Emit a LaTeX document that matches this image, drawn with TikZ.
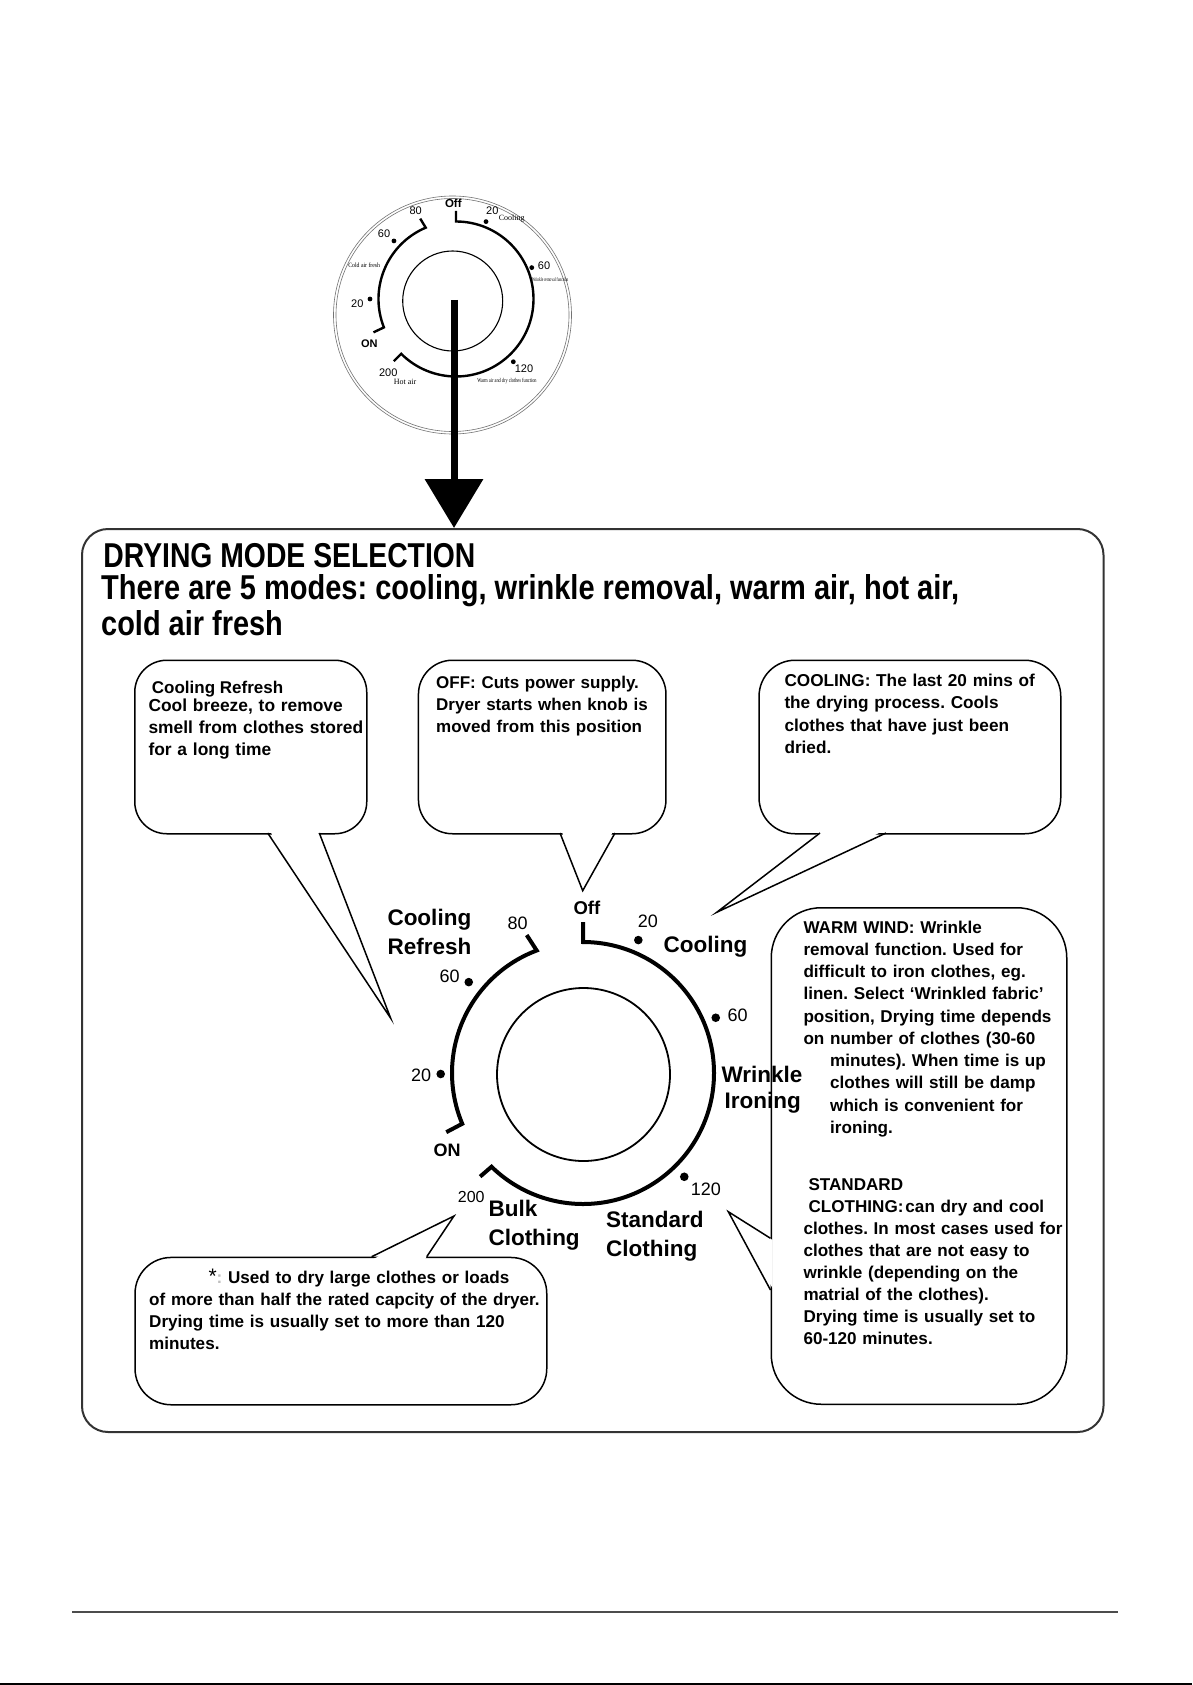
\documentclass[tikz,border=0pt]{standalone}
\usepackage{fontspec}
\setmainfont{Liberation Sans}
\newfontfamily\dialserif{Liberation Serif}
\usetikzlibrary{arrows.meta}
\frenchspacing
\newlength\fitlen
\newcommand\fitw[2]{\settowidth\fitlen{#2}\pgfmathsetmacro\fitr{#1/\fitlen}\scalebox{\fitr}[1]{#2}}
\definecolor{framecol}{HTML}{333333}
\begin{document}
\frenchspacing
\begin{tikzpicture}[x=1pt,y=-1pt,
  bubble/.style={draw=black, line width=1.5pt, fill=white, inner sep=0pt, anchor=north west},
  tail/.style={draw=black, line width=1.5pt, line join=miter},
  cover/.style={fill=white},
  ring/.style={line width=4pt, line join=miter, line cap=butt},
  ringsmall/.style={line width=2.4pt, line join=miter},
  lbl/.style={inner sep=0pt, anchor=base west},
  clbl/.style={inner sep=0pt, anchor=base},
  txt/.style={inner sep=0pt, anchor=base west, text width=420pt, align=left},
  modefont/.style={font=\fontsize{22.5}{28}\selectfont\bfseries},
  numfont/.style={font=\fontsize{18}{20}\selectfont},
  smallnum/.style={font=\fontsize{11}{12}\selectfont},
]
\useasboundingbox (0,0) rectangle (1192,1685);
\fill[white] (0,0) rectangle (1192,1685);

% ---------- main frame ----------
\node[draw=framecol, line width=2pt, rounded corners=26pt, minimum width=1021.5pt, minimum height=903pt, inner sep=0pt, anchor=north west] (frame) at (81,528) {};

% ---------- title ----------
\node[lbl] (title1) at (103.2,567.5) {\fitw{372}{\fontsize{34.5}{36}\selectfont\bfseries DRYING MODE SELECTION}};
\node[lbl] (title2) at (101,599.8) {\fitw{858}{\fontsize{34.5}{36}\selectfont\bfseries There are 5 modes: cooling, wrinkle removal, warm air, hot air,}};
\node[lbl] (title3) at (101,635.3) {\fitw{181.7}{\fontsize{34.5}{36}\selectfont\bfseries cold air fresh}};

% ---------- bubble 1 : cooling refresh ----------
\node[bubble, rounded corners=32pt, minimum width=232pt, minimum height=173.5pt] (b1) at (134,659.5) {};
\coordinate (b1l) at (267.7,833); \coordinate (b1r) at (319.3,833); \coordinate (b1tip) at (390.7,1018.3);
\fill[cover] (269.5,830.5) -- (b1tip) -- (317.5,830.5) -- cycle;
\draw[tail] (b1l) -- (b1tip) -- (b1r);
\node[lbl, font=\fontsize{17}{20}\selectfont\bfseries] (b1h) at (151.7,693.3) {Cooling Refresh};
\node[txt, font=\fontsize{17.4}{22}\selectfont\bfseries] (b1t) at (148.3,711.7) {Cool breeze, to remove\\smell from clothes stored\\for a long time};

% ---------- bubble 2 : off ----------
\node[bubble, rounded corners=34pt, minimum width=247.5pt, minimum height=173.5pt] (b2) at (417.7,659.5) {};
\coordinate (b2l) at (560,833); \coordinate (b2r) at (615,833); \coordinate (b2tip) at (582.7,890.7);
\fill[cover] (561.5,830.5) -- (b2tip) -- (613.5,830.5) -- cycle;
\draw[tail] (b2l) -- (b2tip) -- (b2r);
\node[txt, font=\fontsize{17}{22.3}\selectfont\bfseries] (b2t) at (436,688.3) {OFF: Cuts power supply.\\Dryer starts when knob is\\moved from this position};

% ---------- bubble 3 : cooling ----------
\node[bubble, rounded corners=36pt, minimum width=301.7pt, minimum height=173.5pt] (b3) at (758.3,659.5) {};
\coordinate (b3l) at (820,833); \coordinate (b3r) at (886,833); \coordinate (b3tip) at (716.7,912.3);
\fill[cover] (822,830.5) -- (b3tip) -- (884,830.5) -- cycle;
\draw[tail] (b3l) -- (b3tip) -- (b3r);
\node[txt, font=\fontsize{17.2}{22.2}\selectfont\bfseries] (b3t) at (784.3,686.7) {COOLING: The last 20 mins of\\the drying process. Cools\\clothes that have just been\\dried.};

% ---------- bubble 4 : warm wind / standard ----------
\node[bubble, rounded corners=50pt, minimum width=295.5pt, minimum height=496.5pt] (b4) at (770.5,907) {};
\coordinate (b4u) at (770.5,1238.3); \coordinate (b4d) at (770.5,1290); \coordinate (b4tip) at (728.3,1211.7);
\fill[cover] (772.5,1240) -- (b4tip) -- (772.5,1288) -- cycle;
\draw[tail] (b4u) -- (b4tip) -- (b4d);
\node[txt, font=\fontsize{17.1}{22.22}\selectfont\bfseries] (b4t) at (803.3,933.3) {WARM WIND: Wrinkle\\removal function. Used for\\difficult to iron clothes, eg.\\linen. Select ‘Wrinkled fabric’\\position, Drying time depends\\on number of clothes (30-60\\\hspace*{26.7pt}minutes). When time is up\\\hspace*{26.7pt}clothes will still be damp\\\hspace*{26.7pt}which is convenient for\\\hspace*{26.7pt}ironing.};
\node[txt, font=\fontsize{17.1}{22.04}\selectfont\bfseries] (b4s) at (803.3,1190) {\hspace*{5pt}STANDARD\\\hspace*{5pt}CLOTHING:\kern2pt can dry and cool\\\fitw{259}{clothes. In most cases used for}\\clothes that are not easy to\\wrinkle (depending on the\\matrial of the clothes).\\Drying time is usually set to\\60-120 minutes.};

% ---------- bubble 5 : bulk ----------
\node[bubble, rounded corners=36pt, minimum width=411.7pt, minimum height=147.3pt] (b5) at (134.3,1256.7) {};
\coordinate (b5l) at (371.7,1256.7); \coordinate (b5r) at (426.7,1256.7); \coordinate (b5tip) at (454,1216);
\fill[cover] (373.5,1259) -- (b5tip) -- (425,1259) -- cycle;
\draw[tail] (b5l) -- (b5tip) -- (b5r);
\node[txt, font=\fontsize{17.1}{22.2}\selectfont\bfseries] (b5t) at (149,1283.3) {\hspace*{59.3pt}{\mdseries\fontsize{21}{22}\selectfont *}{\color{black!25}:} Used to dry large clothes or loads\\of more than half the rated capcity of the dryer.\\Drying time is usually set to more than 120\\minutes.};

% ---------- big dial ----------
\begin{scope}[shift={(583,1073)}, yscale=-1]
  \draw[ring] (112.2:149) -- (110.7:131) arc[start angle=110.7, end angle=202.8, radius=131] -- (203.4:149);
  \draw[ring] (90:151) -- (90:131) arc[start angle=90, end angle=-134.3, radius=131] -- (-134.8:146);
  \draw[line width=1.8pt] (0.5,-1.5) circle[radius=86.5];
  \fill (67.4:144) circle[radius=4.3];
  \fill (22.6:143.8) circle[radius=4.3];
  \fill (-45.7:145) circle[radius=4.3];
  \fill (141.5:146) circle[radius=4.3];
  \fill (180.4:142.3) circle[radius=4.3];
\end{scope}
\node[lbl, font=\fontsize{18.5}{20}\selectfont\bfseries] (loff) at (573.3,914.3) {Off};
\node[lbl, numfont] (l80) at (507.3,929) {80};
\node[lbl, numfont] (l20r) at (637.7,927.7) {20};
\node[lbl, modefont] (lcool) at (663.3,952.7) {Cooling};
\node[lbl, numfont] (l60r) at (727.3,1021.7) {60};
\node[lbl, modefont] (lwr) at (721.3,1082.4) {Wrinkle};
\node[lbl, modefont] (lir) at (724.5,1108) {Ironing};
\node[lbl, numfont] (l120) at (690.7,1195) {120};
\node[lbl, modefont] (lst1) at (606,1227.3) {Standard};
\node[lbl, modefont] (lst2) at (606,1256) {Clothing};
\node[lbl, modefont] (lbu1) at (488.3,1216.7) {Bulk};
\node[lbl, modefont] (lbu2) at (488.3,1245) {Clothing};
\node[lbl, font=\fontsize{16}{18}\selectfont] (l200) at (457.7,1202.7) {200};
\node[lbl, font=\fontsize{18}{20}\selectfont\bfseries] (lon) at (433.3,1156) {ON};
\node[lbl, numfont] (l20l) at (411,1081) {20};
\node[lbl, numfont] (l60l) at (439.3,982.7) {60};
\node[lbl, modefont] (lcr1) at (387.3,925) {Cooling};
\node[lbl, modefont] (lcr2) at (387.3,954) {Refresh};

% ---------- small dial ----------
\draw[black!55, line width=0.6pt] (452.5,315) circle[radius=119];
\draw[black!55, line width=0.6pt] (452.5,315) circle[radius=116.5];
\begin{scope}[shift={(456,299)}, yscale=-1]
  \draw[ringsmall] (90:88) -- (90:77.5) arc[start angle=90, end angle=-135, radius=77.5] -- (-135:88);
  \draw[ringsmall] (114:88) -- (113:77.5) arc[start angle=113, end angle=201.5, radius=77.5] -- (202:89);
  \draw[line width=1.1pt] (-3.3,-2) circle[radius=50];
  \fill (68.8:83) circle[radius=2.4];
  \fill (22.5:82) circle[radius=2.4];
  \fill (-47.6:85) circle[radius=2.4];
  \fill (136.9:85) circle[radius=2.4];
  \fill (180:86) circle[radius=2.4];
\end{scope}
\node[clbl, font=\fontsize{11.5}{12}\selectfont\bfseries] (soff) at (453.3,207.3) {Off};
\node[clbl, smallnum] (s80) at (415.7,215) {80};
\node[clbl, smallnum] (s60l) at (384,237.3) {60};
\node[clbl, smallnum] (s20l) at (357.3,307.7) {20};
\node[clbl, font=\fontsize{11}{12}\selectfont\bfseries] (son) at (369.3,347.7) {ON};
\node[clbl, smallnum] (s200) at (388.3,376.7) {200};
\node[clbl, font=\dialserif\fontsize{8}{9}\selectfont] (shot) at (405,384) {Hot air};
\node[clbl, smallnum] (s120) at (524,372.3) {120};
\node[clbl, font=\dialserif\fontsize{6}{7}\selectfont] (swarm) at (507,382.3) {\fitw{59.3}{Warm air and dry clothes function}};
\node[clbl, smallnum] (s60r) at (544,270) {60};
\node[clbl, font=\dialserif\fontsize{5.5}{6}\selectfont] (swr) at (550.2,281.7) {\fitw{36.3}{Wrinkle removal function}};
\node[clbl, smallnum] (s20r) at (492.3,214.3) {20};
\node[clbl, font=\dialserif\fontsize{8}{9}\selectfont] (scool) at (511.7,220.7) {Cooling};
\node[clbl, font=\dialserif\fontsize{6.5}{7}\selectfont] (scold) at (364.2,267.3) {\fitw{31.7}{Cold air fresh}};

% ---------- arrow from small dial to frame ----------
\coordinate (ktop) at (454,300);
\coordinate (ktip) at (454,528);
\draw[line width=7pt, -{Triangle[length=49pt, width=57pt]}] (ktop) -- (ktip);

% ---------- footer lines ----------
\coordinate (fl) at (72,1612); \coordinate (fr) at (1118,1612);
\draw[line width=2.5pt, black!70] (fl) -- (fr);
\coordinate (bl) at (0,1684); \coordinate (br) at (1192,1684);
\draw[line width=2pt, black] (bl) -- (br);
\end{tikzpicture}
\end{document}
